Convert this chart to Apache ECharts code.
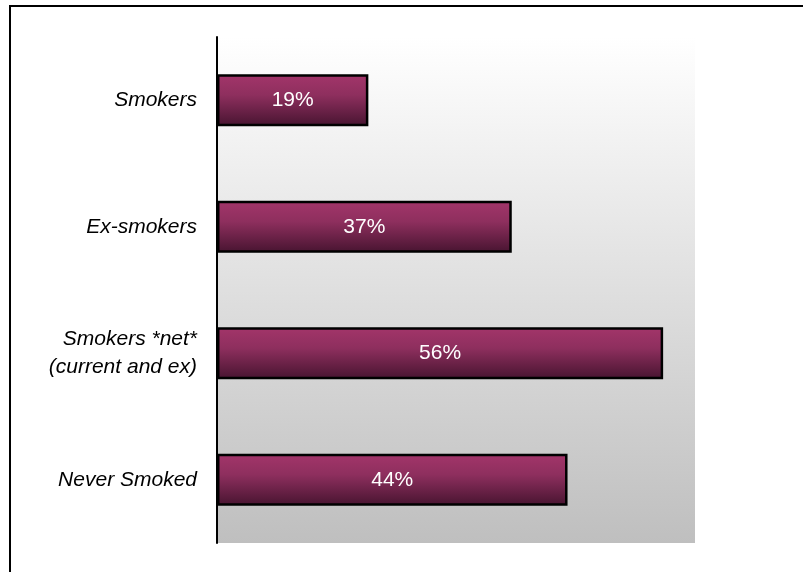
<!DOCTYPE html>
<html>
<head>
<meta charset="utf-8">
<script src="https://cdn.jsdelivr.net/npm/echarts@6/dist/echarts.min.js"></script>
<style>
html,body{margin:0;padding:0;background:#fff;}
#chart{width:803px;height:572px;}
</style>
</head>
<body>
<div id="chart"></div>
<script>
const categories = ['Smokers', 'Ex-smokers', 'Smokers *net*\n(current and ex)', 'Never Smoked'];
const values = [19, 37, 56, 44];
const valueLabels = ['19%', '37%', '56%', '44%'];

const chart = echarts.init(document.getElementById('chart'), null, {renderer: 'canvas'});
chart.setOption({
  animation: false,
  backgroundColor: '#ffffff',
  grid: {
    left: 217, right: 108, top: 37, bottom: 29,
    show: true,
    borderWidth: 0,
    backgroundColor: new echarts.graphic.LinearGradient(0, 0, 0, 1, [
      {offset: 0, color: '#ffffff'},
      {offset: 1, color: '#bfbfbf'}
    ])
  },
  xAxis: {
    type: 'value', min: 0, max: 60,
    show: false
  },
  yAxis: {
    type: 'category',
    data: categories,
    inverse: true,
    axisLine: {show: true, lineStyle: {color: '#000', width: 2}},
    axisTick: {show: false},
    axisLabel: {
      margin: 20,
      color: '#000',
      fontFamily: 'Arial, "Liberation Sans", sans-serif',
      fontStyle: 'italic',
      fontSize: 21,
      lineHeight: 28,
      align: 'right'
    },
    splitLine: {show: false}
  },
  series: [{
    type: 'bar',
    data: values,
    barWidth: 52,
    itemStyle: {
      borderColor: '#000',
      borderWidth: 2.5,
      color: new echarts.graphic.LinearGradient(0, 0, 0, 1, [
        {offset: 0, color: '#a3356a'},
        {offset: 0.4, color: '#8e2f5e'},
        {offset: 1, color: '#471430'}
      ])
    },
    label: {
      show: true,
      position: 'inside',
      color: '#ffffff',
      fontFamily: 'Arial, "Liberation Sans", sans-serif',
      fontSize: 21,
      formatter: p => valueLabels[p.dataIndex]
    }
  }],
  graphic: [
    {type: 'line', shape: {x1: 10, y1: 5, x2: 10, y2: 572}, style: {stroke: '#000', lineWidth: 2}, silent: true},
    {type: 'line', shape: {x1: 9, y1: 6, x2: 803, y2: 6}, style: {stroke: '#000', lineWidth: 2}, silent: true}
  ]
});
</script>
</body>
</html>
